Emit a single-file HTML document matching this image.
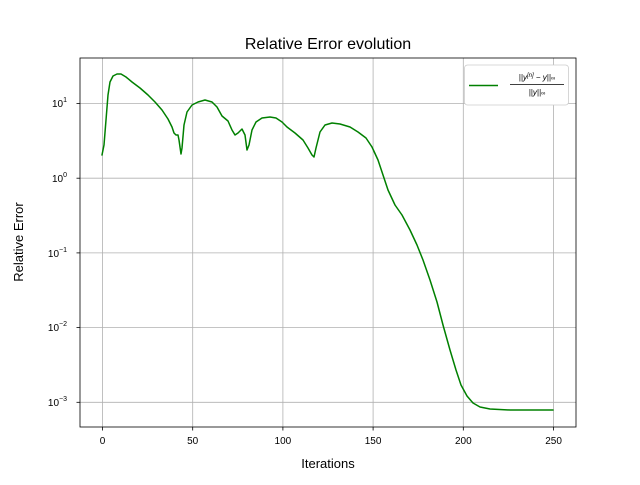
<!DOCTYPE html>
<html><head><style>body{margin:0;background:#fff}</style></head><body>
<svg width="640" height="480" xmlns="http://www.w3.org/2000/svg" font-family="Liberation Sans, DejaVu Sans, sans-serif">
<rect width="640" height="480" fill="#fff"/>
<g stroke="#b0b0b0" stroke-width="0.8">
<line x1="102.5" y1="58" x2="102.5" y2="427"/><line x1="192.7" y1="58" x2="192.7" y2="427"/><line x1="282.9" y1="58" x2="282.9" y2="427"/><line x1="373.1" y1="58" x2="373.1" y2="427"/><line x1="463.3" y1="58" x2="463.3" y2="427"/><line x1="553.6" y1="58" x2="553.6" y2="427"/>
<line x1="80" y1="103.5" x2="576" y2="103.5"/><line x1="80" y1="178.2" x2="576" y2="178.2"/><line x1="80" y1="252.9" x2="576" y2="252.9"/><line x1="80" y1="327.6" x2="576" y2="327.6"/><line x1="80" y1="402.3" x2="576" y2="402.3"/>
</g>
<polyline fill="none" stroke="#008000" stroke-width="1.5" stroke-linejoin="round" stroke-linecap="round" points="102,155 104,145 106,120 108,95 110,82 113,76 117,74 121,74 126,77 132,82 140,88 148,95 155,102 162,110 168,119 172,127 174,133 176,135 178,135 179,140 181,154 182,148 184,125 187,112 192,105 198,102 205,100 212,102 217,107 222,116 228,121 232,130 235,135 238,133 242,129 245,135 247,150 249,145 252,130 256,122 262,118 270,117 276,118 282,122 287,127 295,133 303,140 308,148 312,155 314,157 316,148 320,132 325,125 332,123 340,124 350,127 358,132 366,138 372,147 378,160 383,175 388,190 395,205 402,215 410,230 417,245 423,260 430,280 437,302 443,325 450,350 456,370 461,385 467,396 473,403 480,407 490,409 510,410 553,410"/>
<rect x="80" y="58" width="496" height="369" fill="none" stroke="#000" stroke-width="0.8"/>
<g stroke="#000" stroke-width="0.8">
<line x1="102.5" y1="427" x2="102.5" y2="430.5"/><line x1="192.7" y1="427" x2="192.7" y2="430.5"/><line x1="282.9" y1="427" x2="282.9" y2="430.5"/><line x1="373.1" y1="427" x2="373.1" y2="430.5"/><line x1="463.3" y1="427" x2="463.3" y2="430.5"/><line x1="553.6" y1="427" x2="553.6" y2="430.5"/>
<line x1="76.5" y1="103.5" x2="80" y2="103.5"/><line x1="76.5" y1="178.2" x2="80" y2="178.2"/><line x1="76.5" y1="252.9" x2="80" y2="252.9"/><line x1="76.5" y1="327.6" x2="80" y2="327.6"/><line x1="76.5" y1="402.3" x2="80" y2="402.3"/>
</g>
<g font-size="10" text-anchor="middle">
<text x="102.5" y="444">0</text><text x="192.7" y="444">50</text><text x="282.9" y="444">100</text><text x="373.1" y="444">150</text><text x="463.3" y="444">200</text><text x="553.6" y="444">250</text>
</g>
<g font-size="10" text-anchor="end">
<text x="67" y="107">10<tspan font-size="7" dy="-5">1</tspan></text>
<text x="67" y="182">10<tspan font-size="7" dy="-5">0</tspan></text>
<text x="67" y="257">10<tspan font-size="7" dy="-5">−1</tspan></text>
<text x="67" y="331">10<tspan font-size="7" dy="-5">−2</tspan></text>
<text x="67" y="406">10<tspan font-size="7" dy="-5">−3</tspan></text>
</g>
<text x="328" y="468" font-size="13" text-anchor="middle">Iterations</text>
<text x="23" y="242" font-size="13" text-anchor="middle" transform="rotate(-90 23 242)">Relative Error</text>
<text x="328" y="49" font-size="16" text-anchor="middle">Relative Error evolution</text>
<rect x="464.5" y="65" width="104" height="40" rx="3" fill="#fff" stroke="#ccc" stroke-width="0.8"/>
<line x1="469" y1="85.5" x2="498" y2="85.5" stroke="#008000" stroke-width="1.5"/>
<text x="537" y="80" font-size="8" text-anchor="middle" font-style="italic">||y<tspan font-size="6" dy="-3">[n]</tspan><tspan dy="3"> − y||</tspan><tspan font-size="6">∞</tspan></text>
<line x1="510" y1="84.5" x2="564" y2="84.5" stroke="#000" stroke-width="0.7"/>
<text x="537" y="95" font-size="8" text-anchor="middle" font-style="italic">||y||<tspan font-size="6">∞</tspan></text>
</svg>
</body></html>
